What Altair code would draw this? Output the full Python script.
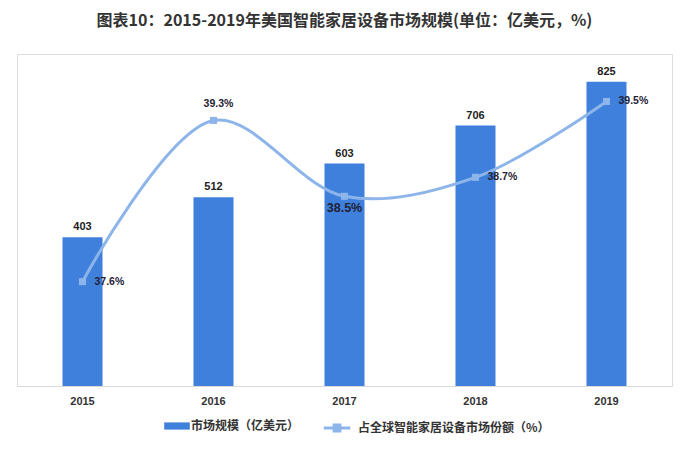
import altair as alt
import pandas as pd

years = ["2015", "2016", "2017", "2018", "2019"]
market = [403, 512, 603, 706, 825]
share = [37.6, 39.3, 38.5, 38.7, 39.5]
bar_name = "市场规模（亿美元）"
line_name = "占全球智能家居设备市场份额（%）"

df = pd.DataFrame({"year": years, "market": market, "share": share})
df["share_label"] = [f"{v:.1f}%" for v in share]
df["bar_series"] = bar_name
df["line_series"] = line_name

BAR = "#3f80dc"
LINE = "#8db5ea"
NUM_FONT = "Liberation Sans"
CJK = "Noto Sans CJK SC"

x = alt.X("year:N", sort=years, title=None,
          scale=alt.Scale(paddingInner=0.695, paddingOuter=0.3475),
          axis=alt.Axis(labelAngle=0, ticks=False, domainColor="#d9d9d9",
                        labelFont=NUM_FONT, labelFontWeight="bold",
                        labelFontSize=11, labelColor="#333333", labelPadding=9))

ybar = alt.Y("market:Q", scale=alt.Scale(domain=[0, 900]), axis=None)
yline = alt.Y("share:Q", scale=alt.Scale(domain=[36.5, 40.0]), axis=None)

bars = alt.Chart(df).mark_bar(size=40, color=BAR).encode(
    x=x, y=ybar,
    fill=alt.Fill("bar_series:N", scale=alt.Scale(range=[BAR]),
                  legend=alt.Legend(title=None, orient="none", legendX=152, legendY=364,
                                    symbolType="M-1.6,-0.45L1.6,-0.45L1.6,0.45L-1.6,0.45Z",
                                    symbolSize=256, symbolStrokeWidth=0, labelOffset=6,
                                    labelFont=CJK, labelFontWeight="bold", labelFontSize=12,
                                    labelLimit=300, labelColor="#333333")),
)
bar_text = alt.Chart(df).mark_text(baseline="bottom", dy=-5, font=NUM_FONT,
                                   fontWeight="bold", fontSize=11, color="#222222").encode(
    x=x, y=ybar, text="market:Q")

line = alt.Chart(df).mark_line(interpolate="catmull-rom", strokeWidth=3, color=LINE).encode(
    x=x, y=yline,
    stroke=alt.Stroke("line_series:N", scale=alt.Scale(range=[LINE]),
                      legend=alt.Legend(title=None, orient="none", legendX=305, legendY=359,
                                        symbolType="M-1,0L1,0M-0.22,-0.22L0.22,-0.22L0.22,0.22L-0.22,0.22Z",
                                        symbolSize=700, symbolStrokeWidth=3, labelOffset=6,
                                        symbolFillColor=LINE,
                                        labelFont=CJK, labelFontWeight="bold", labelFontSize=12,
                                        labelLimit=300, labelColor="#333333")),
)
pts = alt.Chart(df).mark_point(shape="square", filled=True, size=50, color=LINE, opacity=1).encode(
    x=x, y=yline)

def share_text(year_list, size=10.5, **kw):
    return alt.Chart(df).transform_filter(
        alt.FieldOneOfPredicate(field="year", oneOf=year_list)
    ).mark_text(font=NUM_FONT, fontWeight="bold", fontSize=size, color="#1f2235", **kw).encode(
        x=x, y=yline, text="share_label:N")

lt_right = share_text(["2015", "2018", "2019"], align="left", dx=12)
lt_above = share_text(["2016"], align="center", dx=5, dy=-16)
lt_below = share_text(["2017"], size=12.5, align="center", dy=12)

chart = alt.layer(
    alt.layer(bars, bar_text),
    alt.layer(line, pts, lt_right, lt_above, lt_below),
).resolve_scale(y="independent", fill="independent", stroke="independent").properties(
    width=655, height=332,
    padding={"left": 9, "right": 5, "top": 5, "bottom": 5},
    title=alt.Title("图表10：2015-2019年美国智能家居设备市场规模(单位：亿美元，%)",
                    font=CJK, fontSize=16, fontWeight="bold", color="#333333",
                    anchor="middle", offset=25),
).configure_view(stroke=None).configure(background="white")

chart.save("out.html", embed_options={"renderer": "svg", "actions": False})
